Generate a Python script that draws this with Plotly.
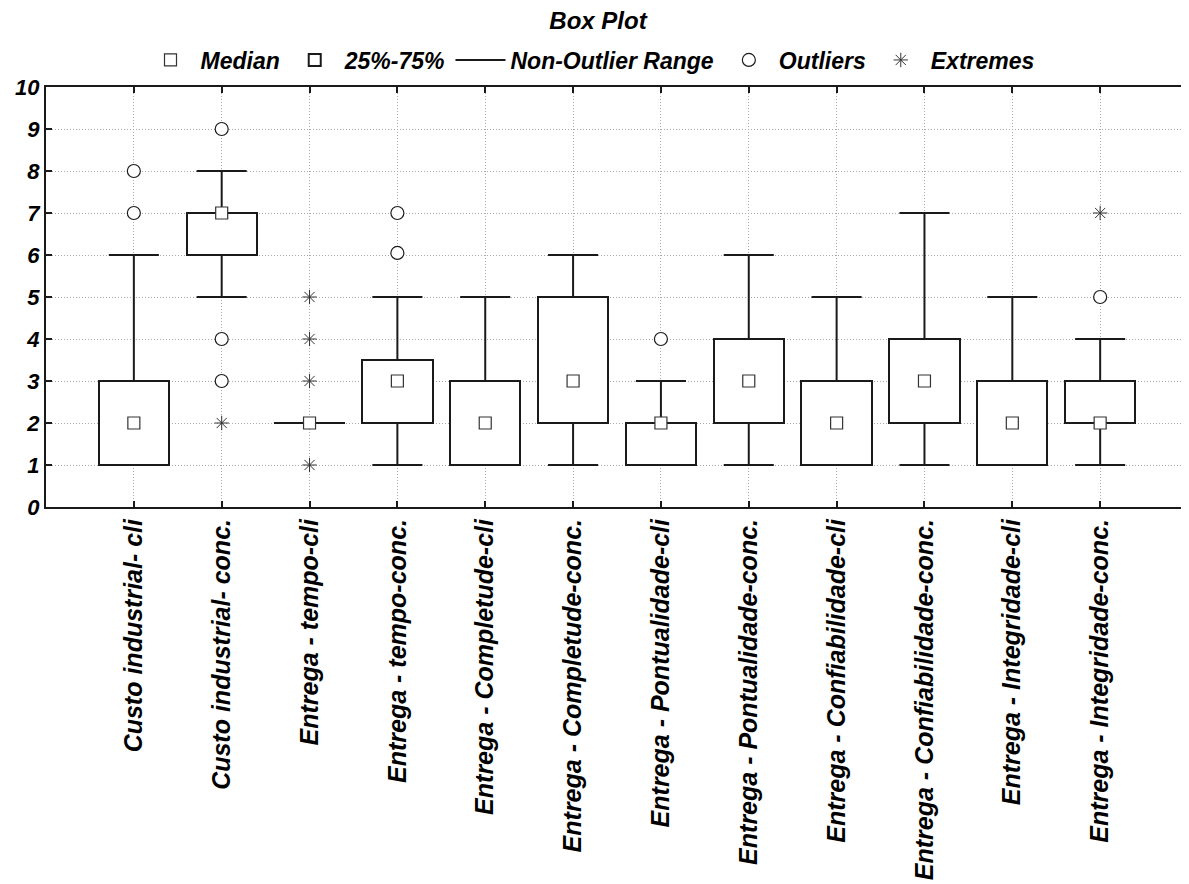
import plotly.graph_objects as go

categories = [
    "Custo industrial- cli", "Custo industrial- conc.",
    "Entrega - tempo-cli", "Entrega - tempo-conc.",
    "Entrega - Completude-cli", "Entrega - Completude-conc.",
    "Entrega - Pontualidade-cli", "Entrega - Pontualidade-conc.",
    "Entrega - Confiabilidade-cli", "Entrega - Confiabilidade-conc.",
    "Entrega - Integridade-cli", "Entrega - Integridade-conc.",
]
median = [2, 7, 2, 3, 2, 3, 2, 3, 2, 3, 2, 2]
q1 = [1, 6, 2, 2, 1, 2, 1, 2, 1, 2, 1, 2]
q3 = [3, 7, 2, 3.5, 3, 5, 2, 4, 3, 4, 3, 3]
whisker_low = [1, 5, 2, 1, 1, 1, 1, 1, 1, 1, 1, 1]
whisker_high = [6, 8, 2, 5, 5, 6, 3, 6, 5, 7, 5, 4]
outliers = [[7, 8], [9, 4, 3], [], [7, 6.05], [], [], [4], [], [], [], [], [5]]
extremes = [[], [2], [5, 4, 3, 1], [], [], [], [], [], [], [], [], [7]]
y_ticks = list(range(0, 11))

pos = list(range(1, len(categories) + 1))
BOX_W = 0.8
CAP_HALF = 0.285
FONT = "Liberation Sans, Arial, sans-serif"
W, H = 1181, 876
ML, MR, MT, MB = 38, 1, 79, 377
GRID = "#a8a8a8"
GRID_DASH = "1px,2px"

# whiskers + caps
wx, wy = [], []
for p, lo, hi, a, b in zip(pos, whisker_low, whisker_high, q1, q3):
    wx += [p, p, None, p, p, None, p - CAP_HALF, p + CAP_HALF, None, p - CAP_HALF, p + CAP_HALF, None]
    wy += [b, hi, None, lo, a, None, hi, hi, None, lo, lo, None]

ox, oy = [], []
for p, vals in zip(pos, outliers):
    for v in vals:
        ox.append(p); oy.append(v)
ex, ey = [], []
for p, vals in zip(pos, extremes):
    for v in vals:
        ex.append(p); ey.append(v)

fig = go.Figure()
fig.add_trace(go.Bar(
    x=pos, y=[b - a for a, b in zip(q1, q3)], base=q1, width=BOX_W,
    marker=dict(color="white", line=dict(color="#1a1a1a", width=2)),
    name="25%-75%", legendrank=2,
))
fig.add_trace(go.Scatter(
    x=wx, y=wy, mode="lines", line=dict(color="#1a1a1a", width=2),
    name="Non-Outlier Range", legendrank=3,
))
fig.add_trace(go.Scatter(
    x=pos, y=median, mode="markers",
    marker=dict(symbol="square", size=12, color="white", line=dict(color="#333", width=1.2)),
    name="Median", legendrank=1,
))
fig.add_trace(go.Scatter(
    x=ox, y=oy, mode="markers",
    marker=dict(symbol="circle", size=13, color="white", line=dict(color="#1a1a1a", width=1.2)),
    name="Outliers", legendrank=4,
))
fig.add_trace(go.Scatter(
    x=ex, y=ey, mode="markers",
    marker=dict(symbol="asterisk-open", size=12, color="#333", line=dict(color="#333", width=1)),
    name="Extremes", legendrank=5,
))

plot_w = W - ML - MR
plot_h = H - MT - MB
fig.update_layout(
    width=W, height=H,
    margin=dict(l=ML, r=MR, t=MT, b=MB, autoexpand=False),
    paper_bgcolor="white", plot_bgcolor="white",
    font=dict(family=FONT, color="black", weight="bold", style="italic"),
    title=dict(text="Box Plot", x=(598 - 8) / W, xref="container", y=1 - 13 / H, yanchor="middle",
               font=dict(size=24, family=FONT, weight="bold", style="italic")),
    showlegend=True,
    legend=dict(orientation="h", x=(582 - ML) / plot_w, xref="paper", xanchor="center",
                y=1 + 27 / plot_h, yanchor="middle", font=dict(size=23, weight="bold", style="italic"),
                traceorder="normal", bgcolor="rgba(0,0,0,0)", itemwidth=50),
    bargap=0,
)
fig.update_xaxes(
    range=[0, 13], tickmode="array", tickvals=pos, ticktext=categories, tickangle=-90,
    tickfont=dict(size=25, weight="bold", style="italic"),
    showgrid=True, gridcolor=GRID, griddash=GRID_DASH, gridwidth=1,
    showline=True, linecolor="#1a1a1a", linewidth=2, mirror="ticks",
    ticks="inside", ticklen=6, tickwidth=2, tickcolor="#1a1a1a", zeroline=False,
)
fig.update_yaxes(
    range=[0, 10], tickmode="array", tickvals=y_ticks,
    tickfont=dict(size=22, weight="bold", style="italic"),
    showgrid=True, gridcolor=GRID, griddash=GRID_DASH, gridwidth=1,
    showline=True, linecolor="#1a1a1a", linewidth=2, mirror="ticks",
    ticks="inside", ticklen=6, tickwidth=2, tickcolor="#1a1a1a", zeroline=False,
)

fig.write_html("out.html")
